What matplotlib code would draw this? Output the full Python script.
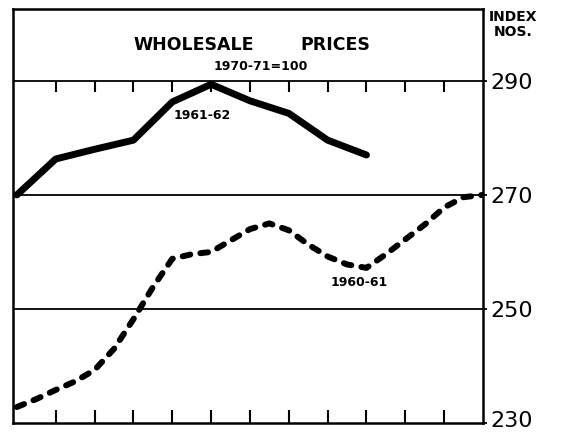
import matplotlib
matplotlib.use("Agg")
import matplotlib.pyplot as plt
import numpy as np

# solid line (1961-62), one reading per month
months_6162 = np.arange(10)
index_6162 = [270.0, 276.3, 278.0, 279.6, 286.3, 289.4, 286.5, 284.3, 279.6, 277.0]

# dashed line (1960-61), read every half month
months_6061 = np.arange(0, 12.5, 0.5)
index_6061 = [232.8, 234.2, 235.8, 237.3, 239.3, 243.0, 248.2, 253.8, 258.8,
              259.6, 260.0, 262.0, 264.0, 265.0, 263.8, 261.3, 259.2, 257.8,
              257.2, 259.6, 262.2, 264.8, 267.8, 269.6, 270.0]

yticks = [230, 250, 270, 290]
month_ticks = np.arange(1, 12)

fig = plt.figure(figsize=(5.61, 4.34), dpi=100)
ax = fig.add_axes([13/561, 1 - 423/434, 470/561, 414/434])

ax.set_xlim(-0.1, 12)
ax.set_ylim(230, 302.6)

ax.plot(months_6162, index_6162, color='k', linewidth=5,
        solid_capstyle='round', solid_joinstyle='round')
dl, = ax.plot(months_6061, index_6061, color='k', linewidth=4.3,
              dash_capstyle='round', dash_joinstyle='round')
dl.set_dashes((1.3, 1.7))

# horizontal rules
for y in yticks[1:]:
    ax.axhline(y, color='k', linewidth=1.3)

for s in ax.spines.values():
    s.set_linewidth(1.8)

ax.yaxis.tick_right()
ax.set_yticks(yticks)
ax.set_yticklabels([])
ax.tick_params(axis='y', direction='out', length=3, width=1.3)

# index labels on the right, the bottom one kept inside the frame
for v in yticks:
    dy = 1.5 if v == yticks[0] else -1.5
    ax.annotate(str(v), xy=(1, v), xycoords=('axes fraction', 'data'),
                xytext=(5, dy), textcoords='offset points',
                ha='left', va='center', fontsize=16, annotation_clip=False)

ax.set_xticks(month_ticks)
ax.tick_params(axis='x', direction='in', length=9.5, width=1.5,
               labelbottom=False)

# month ticks hanging below the 290 line
loc = (290 - 230) / (302.6 - 230)
sec = ax.secondary_xaxis(loc)
sec.set_xticks(month_ticks)
sec.tick_params(axis='x', direction='in', length=8, width=1.5,
                labeltop=False, labelbottom=False)
for s in sec.spines.values():
    s.set_visible(False)

ax.text(4.56, 296.3, 'WHOLESALE', ha='center', va='center',
        fontsize=12.5, fontweight='bold')
ax.text(8.21, 296.3, 'PRICES', ha='center', va='center',
        fontsize=12.5, fontweight='bold')
ax.text(6.27, 292.6, '1970-71=100', ha='center', va='center',
        fontsize=9, fontweight='bold')
ax.text(4.76, 284.0, '1961-62', ha='center', va='center',
        fontsize=9, fontweight='bold')
ax.text(8.82, 254.7, '1960-61', ha='center', va='center',
        fontsize=9, fontweight='bold')

fig.text(513/561, 1 - 17/434, 'INDEX', ha='center', va='center',
         fontsize=10, fontweight='bold')
fig.text(513/561, 1 - 32/434, 'NOS.', ha='center', va='center',
         fontsize=10, fontweight='bold')

fig.savefig('out.png', dpi=100)
